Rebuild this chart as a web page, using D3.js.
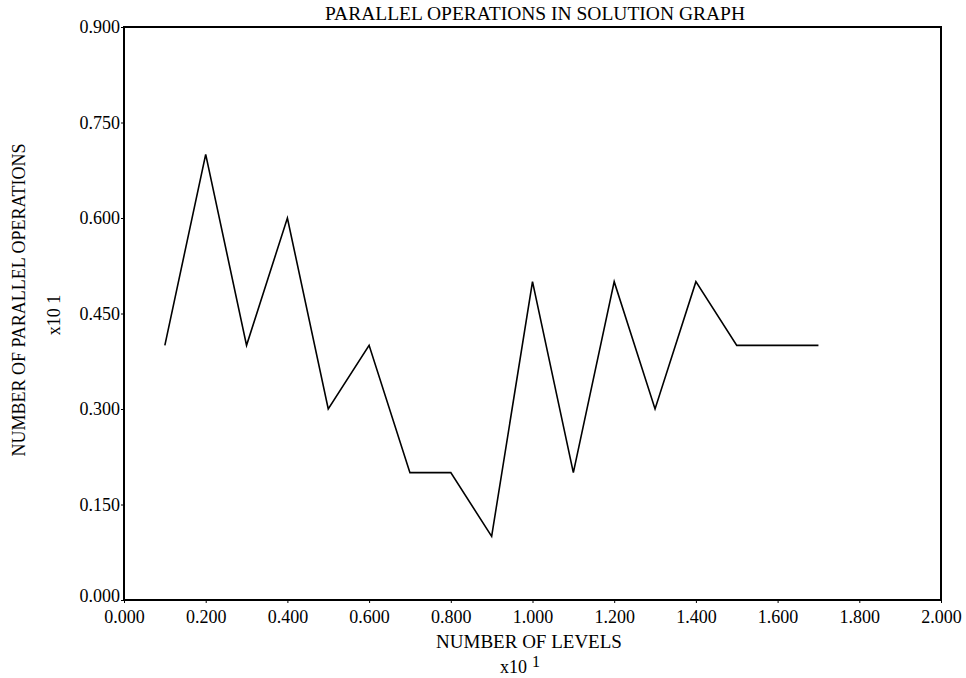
<!DOCTYPE html>
<html>
<head>
<meta charset="utf-8">
<script src="https://cdn.jsdelivr.net/npm/d3@7"></script>
<style>
  body { margin: 0; background: #fff; }
  text { font-family: "Liberation Serif", "Times New Roman", serif; fill: #000; }
</style>
</head>
<body>
<svg class="chart" width="966" height="678"></svg>
<script>
// data (x in units of 10^1, y in units of 10^1)
const levels = [0.1, 0.2, 0.3, 0.4, 0.5, 0.6, 0.7, 0.8, 0.9, 1.0, 1.1, 1.2, 1.3, 1.4, 1.5, 1.6, 1.7];
const parallelOps = [0.4, 0.7, 0.4, 0.6, 0.3, 0.4, 0.2, 0.2, 0.1, 0.5, 0.2, 0.5, 0.3, 0.5, 0.4, 0.4, 0.4];
const xTicks = [0, 0.2, 0.4, 0.6, 0.8, 1.0, 1.2, 1.4, 1.6, 1.8, 2.0];
const yTicks = [0, 0.15, 0.3, 0.45, 0.6, 0.75, 0.9];

const plotLeft = 124, plotRight = 941, plotTop = 27, plotBottom = 600;

const svg = d3.select(".chart");

const xScale = d3.scaleLinear().domain([0, 2]).range([plotLeft, plotRight]);
const yScale = d3.scaleLinear().domain([0, 0.9]).range([plotBottom, plotTop]);

// frame
svg.append("rect")
  .attr("x", plotLeft).attr("y", plotTop)
  .attr("width", plotRight - plotLeft).attr("height", plotBottom - plotTop)
  .attr("fill", "none").attr("stroke", "#000").attr("stroke-width", 2);

// x axis
const xAxis = d3.axisBottom(xScale).tickValues(xTicks).tickSize(3).tickPadding(7)
  .tickFormat(d3.format(".3f"));
const gx = svg.append("g").attr("transform", `translate(0,${plotBottom})`).call(xAxis);
gx.select(".domain").remove();
gx.selectAll("text").style("font-size", "18px").attr("fill", "#000");
gx.selectAll("line").attr("stroke", "#000");

// y axis
const yAxis = d3.axisLeft(yScale).tickValues(yTicks).tickSize(3).tickPadding(1)
  .tickFormat(d3.format(".3f"));
const gy = svg.append("g").attr("transform", `translate(${plotLeft},0)`).call(yAxis);
gy.select(".domain").remove();
gy.selectAll("text").style("font-size", "18px").attr("fill", "#000");
gy.selectAll("line").attr("stroke", "#000");
// lift the bottom label a touch so it clears the x axis "0.000"
gy.selectAll(".tick text").filter(d => d === 0).attr("dy", "0.1em");

// data line
const pts = levels.map((x, i) => [x, parallelOps[i]]);
svg.append("path")
  .datum(pts)
  .attr("fill", "none")
  .attr("stroke", "#000")
  .attr("stroke-width", 1.6)
  .attr("d", d3.line().x(d => xScale(d[0])).y(d => yScale(d[1])));

// title
svg.append("text")
  .attr("x", 535).attr("y", 20)
  .attr("text-anchor", "middle")
  .style("font-size", "19.5px")
  .text("PARALLEL OPERATIONS IN SOLUTION GRAPH");

// x label
svg.append("text")
  .attr("x", 529).attr("y", 648)
  .attr("text-anchor", "middle")
  .style("font-size", "19px")
  .text("NUMBER OF LEVELS");
const xMul = svg.append("text")
  .attr("x", 500).attr("y", 673)
  .style("font-size", "18px");
xMul.append("tspan").text("x10");
xMul.append("tspan").attr("dx", 5).attr("dy", -6).style("font-size", "16px").text("1");

// y label
svg.append("text")
  .attr("transform", "translate(25,300) rotate(-90)")
  .attr("text-anchor", "middle")
  .style("font-size", "18px")
  .text("NUMBER OF PARALLEL OPERATIONS");
svg.append("text")
  .attr("transform", "translate(60,315) rotate(-90)")
  .attr("text-anchor", "middle")
  .style("font-size", "18px")
  .text("x10 1");
</script>
</body>
</html>
